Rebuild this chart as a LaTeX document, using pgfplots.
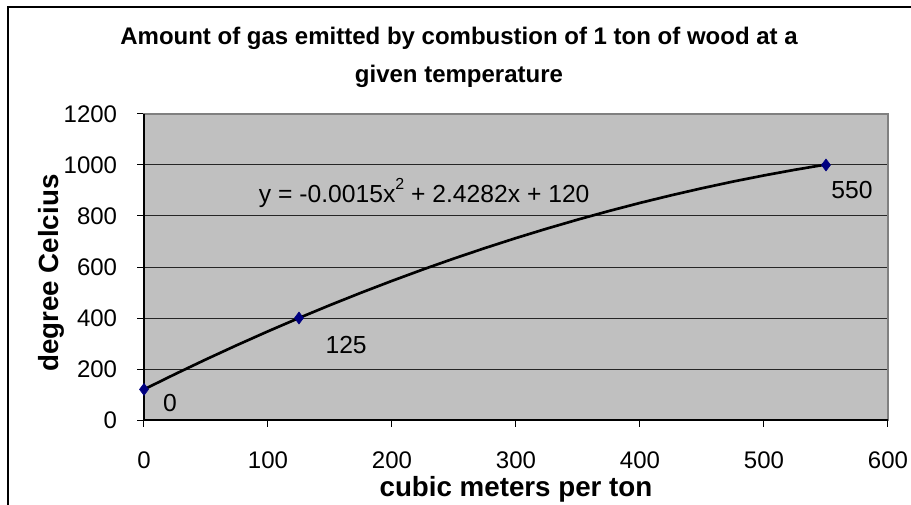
\documentclass[border=0pt]{standalone}
\usepackage{pgfplots}
\pgfplotsset{compat=1.18}
\usepackage{fontspec}
\setmainfont{Liberation Sans}
\setsansfont{Liberation Sans}
\definecolor{plotgray}{HTML}{C0C0C0}
\definecolor{boxgray}{HTML}{808080}
\definecolor{marknavy}{HTML}{000080}

\begin{document}
\begin{tikzpicture}
\useasboundingbox (0,0) rectangle (683.25pt,378pt);
% outer chart frame (only left and top edges are visible)
\draw[line width=1.5pt] (6pt,-5pt) -- (6pt,372.75pt) -- (700pt,372.75pt);
% title
\node[align=center, font=\fontsize{18}{28.5}\selectfont\bfseries] at (344.25pt,335pt)
  {Amount of gas emitted by combustion of 1 ton of wood at a\\given temperature};

\begin{axis}[
  at={(108pt,63pt)}, anchor=south west,
  scale only axis, width=558pt, height=229.5pt,
  xmin=0, xmax=600, ymin=0, ymax=1200,
  xtick={0,100,...,600}, ytick={0,200,...,1200},
  ymajorgrids,
  major grid style={black!85, line width=0.75pt},
  axis background/.style={fill=plotgray},
  axis line style={boxgray, line width=0.9pt},
  tick align=outside, major tick length=5pt,
  tick style={black, line width=0.75pt},
  xtick pos=bottom, ytick pos=left,
  /pgf/number format/assume math mode=true,
  /pgf/number format/1000 sep={},
  tick label style={font=\fontsize{18}{22}\selectfont, inner sep=0pt},
  xticklabel style={anchor=center, yshift=-25pt},
  yticklabel style={anchor=east, xshift=-15pt},
  xlabel={cubic meters per ton},
  ylabel={degree Celcius},
  label style={font=\fontsize{20.8}{24}\selectfont\bfseries, inner sep=0pt},
  xlabel style={at={(axis description cs:0.5,-0.2500)}, anchor=base},
  ylabel style={at={(axis description cs:-0.1150,0.48)}, anchor=base},
  clip=false,
]
% polynomial trend line
\addplot[black, line width=2pt] coordinates {
  (0,120) (25,179.8) (50,237.7) (75,293.7) (100,347.8) (125,400.1)
  (150,450.5) (175,499.0) (200,545.6) (225,590.4) (250,633.3) (275,674.3)
  (300,713.5) (325,750.7) (350,786.1) (375,819.6) (400,851.3) (425,881.0)
  (450,908.9) (475,935.0) (500,959.1) (525,981.4) (550,1001.8)
};
% measured points
\addplot[only marks, mark=diamond*, mark size=4.5pt,
  mark options={fill=marknavy, draw=marknavy}] coordinates {
  (0,120) (125,400) (550,1000)
};
\draw[black, line width=0.9pt] (rel axis cs:0,1) -- (rel axis cs:0,0) -- (rel axis cs:1,0);
\node[font=\fontsize{18.5}{22}\selectfont] at (axis cs:21,67) {0};
\node[font=\fontsize{18.5}{22}\selectfont] at (axis cs:163,294) {125};
\node[font=\fontsize{18.5}{22}\selectfont] at (axis cs:571,902) {550};
\node[font=\fontsize{18.5}{22}\selectfont] at (axis cs:226,890)
  {y = -0.0015x\raisebox{0.5em}{\fontsize{12}{12}\selectfont 2} + 2.4282x + 120};
\end{axis}
\end{tikzpicture}
\end{document}
